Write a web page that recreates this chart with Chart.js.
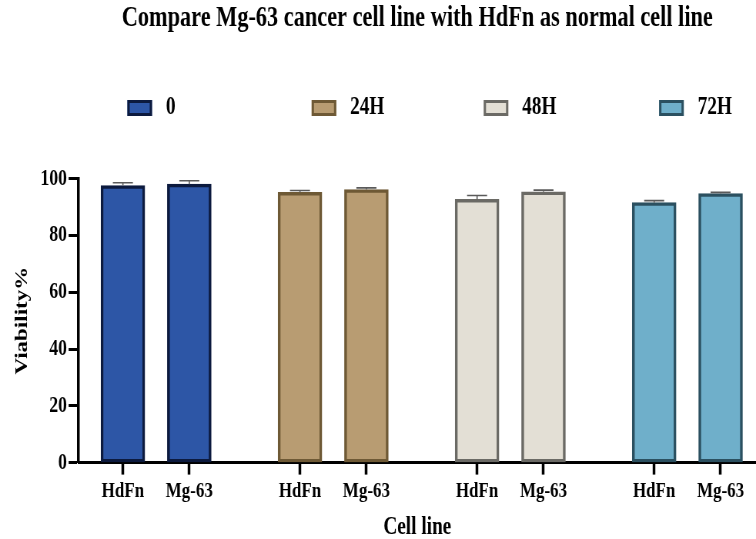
<!DOCTYPE html>
<html>
<head>
<meta charset="utf-8">
<script src="https://cdn.jsdelivr.net/npm/chart.js"></script>
<style>
html,body{margin:0;padding:0;background:#fff;overflow:hidden}
#c{display:block}
</style>
</head>
<body>
<!-- drawn 982 wide and shown at 756: the reference type is narrow like this -->
<canvas id="c" width="982" height="539" style="width:756px;height:539px"></canvas>
<script>
const timePoints = ['0','24H','48H','72H'];
const cellLines  = ['HdFn','Mg-63'];
const hdfnViab   = [97.6, 95.2, 92.8, 91.6];
const mg63Viab   = [98.1, 96.2, 95.4, 94.8];
const hdfnErr    = [1.0, 0.7, 1.3, 0.7];
const mg63Err    = [1.2, 0.6, 0.6, 0.4];
const yTicks     = [0, 20, 40, 60, 80, 100];

const fills   = ['#2d56a6','#b89c72','#e3dfd5','#6fafca'];
const borders = ['#0c1a3e','#6e5935','#6b6a65','#2b5060'];
const FONT = "'Liberation Serif','Times New Roman',serif";

// place on the linear x axis: 8 units per time point, 3 between the two cell lines
const slot = (g,c) => g*8 + c*3;
const tickPos = [], tickLbl = [];
timePoints.forEach((t,g)=>cellLines.forEach((c,ci)=>{ tickPos.push(slot(g,ci)); tickLbl.push(c); }));

const datasets = timePoints.map((t,g)=>({
  label: t,
  data: [{x:slot(g,0), y:hdfnViab[g]}, {x:slot(g,1), y:mg63Viab[g]}],
  errors: [hdfnErr[g], mg63Err[g]],
  backgroundColor: fills[g],
  borderColor: borders[g],
  borderWidth: 3.5,
  borderSkipped: false,
  barThickness: 57,
  grouped: false
}));

const errorBars = {
  id: 'errorBars',
  afterDatasetsDraw(chart, args, o){
    const {ctx, scales:{y}} = chart;
    ctx.save();
    ctx.strokeStyle = o.color; ctx.lineWidth = o.width;
    chart.data.datasets.forEach((ds,i)=>{
      chart.getDatasetMeta(i).data.forEach((bar,j)=>{
        const top = y.getPixelForValue(ds.data[j].y + ds.errors[j]);
        ctx.beginPath();
        ctx.moveTo(bar.x, bar.y); ctx.lineTo(bar.x, top);
        ctx.moveTo(bar.x - o.cap/2, top); ctx.lineTo(bar.x + o.cap/2, top);
        ctx.stroke();
      });
    });
    ctx.restore();
  }
};

// legend spread in columns over the plot width, like the original
const boxLegend = {
  id: 'boxLegend',
  afterDraw(chart, args, o){
    const {ctx, chartArea:{left, right}} = chart;
    const w = right - left;
    ctx.save();
    ctx.font = o.font; ctx.textBaseline = 'middle'; ctx.textAlign = 'left';
    chart.data.datasets.forEach((ds,i)=>{
      const x = left + w*o.cols[i];
      ctx.fillStyle = ds.backgroundColor;
      ctx.fillRect(x, o.y - o.boxH/2, o.boxW, o.boxH);
      ctx.strokeStyle = ds.borderColor; ctx.lineWidth = o.border;
      ctx.strokeRect(x + o.border/2, o.y - o.boxH/2 + o.border/2, o.boxW - o.border, o.boxH - o.border);
      ctx.fillStyle = '#000';
      ctx.fillText(ds.label, x + o.boxW + o.gap, o.y);
    });
    ctx.restore();
  }
};

new Chart(document.getElementById('c'), {
  type: 'bar',
  data: { datasets },
  plugins: [errorBars, boxLegend],
  options: {
    responsive: false,
    animation: false,
    layout: { padding: 0 },
    plugins: {
      legend: { display: false },
      tooltip: { enabled: false },
      title: {
        display: true, fullSize: false,
        text: 'Compare Mg-63 cancer cell line with HdFn as normal cell line',
        color: '#000',
        font: { family: FONT, size: 29, weight: 'bold' },
        padding: { top: 1, bottom: 143 }
      },
      boxLegend: { cols: [0.072, 0.344, 0.598, 0.857], y: 108, boxW: 32, boxH: 16, border: 3, gap: 18, font: `bold 25px ${FONT}` },
      errorBars: { color: '#5a5a5a', width: 1.6, cap: 26 }
    },
    scales: {
      x: {
        type: 'linear', min: -2, max: 28.6, bounds: 'data', offset: false, z: 1,
        afterBuildTicks: s => { s.ticks = tickPos.map(v => ({ value: v })); },
        ticks: {
          autoSkip: false, maxRotation: 0, minRotation: 0, padding: 4, color: '#000',
          font: { family: FONT, size: 22, weight: 'bold' },
          callback: (v, i) => tickLbl[i]
        },
        grid: { drawOnChartArea: false, offset: false, tickLength: 12, tickWidth: 3.5, tickColor: '#000' },
        border: { color: '#000', width: 3 },
        title: { display: true, text: 'Cell line', color: '#000', font: { family: FONT, size: 25, weight: 'bold' }, padding: { top: 4, bottom: -4 } }
      },
      y: {
        min: 0, max: 100, z: 1,
        afterBuildTicks: s => { s.ticks = yTicks.map(v => ({ value: v })); },
        ticks: { padding: 2, color: '#000', font: { family: FONT, size: 23, weight: 'bold' } },
        grid: { drawOnChartArea: false, tickLength: 13, tickWidth: 3, tickColor: '#000' },
        border: { color: '#000', width: 3.5 },
        title: { display: true, text: 'Viability%', color: '#000', font: { family: FONT, size: 23, weight: 'bold' }, padding: { top: 15, bottom: 8 } }
      }
    }
  }
});
</script>
</body>
</html>
